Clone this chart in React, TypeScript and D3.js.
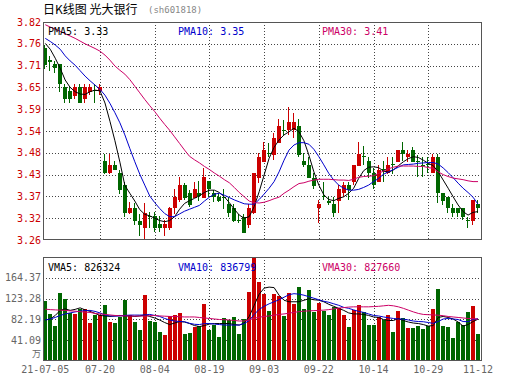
import * as d3 from "d3";

// 光大银行 sh601818 daily K, 2021-07-05 .. 2021-11-12
const dates = [
  "07-05","07-06","07-07","07-08","07-09","07-12","07-13","07-14","07-15","07-16",
  "07-19","07-20","07-21","07-22","07-23","07-26","07-27","07-28","07-29","07-30",
  "08-02","08-03","08-04","08-05","08-06","08-09","08-10","08-11","08-12","08-13",
  "08-16","08-17","08-18","08-19","08-20","08-23","08-24","08-25","08-26","08-27",
  "08-30","08-31","09-01","09-02","09-03","09-06","09-07","09-08","09-09","09-10",
  "09-13","09-14","09-15","09-16","09-17","09-22","09-23","09-24","09-27","09-28",
  "09-29","09-30","10-08","10-11","10-12","10-13","10-14","10-15","10-18","10-19",
  "10-20","10-21","10-22","10-25","10-26","10-27","10-28","10-29","11-01","11-02",
  "11-03","11-04","11-05","11-08","11-09","11-10","11-11","11-12",
];

const open = [
  3.754,3.722,3.712,3.712,3.652,3.643,3.631,3.652,3.621,3.641,
  3.645,3.643,3.463,3.431,3.453,3.431,3.401,3.33,3.341,3.31,
  3.29,3.322,3.322,3.301,3.29,3.29,3.341,3.363,3.401,3.38,
  3.367,3.38,3.367,3.412,3.38,3.371,3.371,3.352,3.341,3.311,
  3.32,3.299,3.33,3.42,3.461,3.483,3.478,3.51,3.542,3.542,
  3.542,3.553,3.463,3.453,3.42,3.341,3.372,3.36,3.352,3.361,
  3.38,3.401,3.41,3.45,3.475,3.463,3.431,3.41,3.442,3.431,
  3.454,3.461,3.491,3.472,3.491,3.464,3.453,3.454,3.431,3.472,
  3.38,3.371,3.341,3.341,3.341,3.312,3.31,3.352,
];
const high = [
  3.76,3.732,3.72,3.712,3.662,3.652,3.662,3.662,3.662,3.662,
  3.662,3.662,3.482,3.482,3.463,3.441,3.41,3.358,3.354,3.328,
  3.354,3.333,3.333,3.322,3.311,3.346,3.39,3.423,3.406,3.388,
  3.41,3.412,3.444,3.412,3.388,3.38,3.39,3.371,3.352,3.328,
  3.328,3.352,3.431,3.484,3.513,3.508,3.534,3.572,3.568,3.602,
  3.585,3.572,3.484,3.474,3.431,3.363,3.41,3.371,3.371,3.401,
  3.41,3.41,3.453,3.513,3.501,3.474,3.444,3.453,3.463,3.474,
  3.474,3.491,3.512,3.491,3.5,3.478,3.474,3.474,3.481,3.481,
  3.38,3.371,3.352,3.341,3.341,3.32,3.363,3.363,
];
const low = [
  3.70,3.695,3.69,3.641,3.611,3.611,3.621,3.611,3.611,3.632,
  3.611,3.632,3.429,3.429,3.44,3.378,3.32,3.328,3.299,3.269,
  3.26,3.29,3.281,3.281,3.269,3.286,3.328,3.358,3.363,3.346,
  3.367,3.361,3.367,3.371,3.358,3.358,3.339,3.32,3.307,3.303,
  3.279,3.29,3.328,3.406,3.461,3.474,3.465,3.508,3.53,3.53,
  3.521,3.474,3.448,3.42,3.39,3.303,3.363,3.35,3.32,3.33,
  3.371,3.363,3.401,3.45,3.453,3.42,3.39,3.41,3.41,3.429,
  3.429,3.461,3.463,3.461,3.461,3.423,3.423,3.431,3.431,3.354,
  3.35,3.33,3.32,3.32,3.311,3.29,3.299,3.33,
];
const close = [
  3.709,3.718,3.701,3.662,3.621,3.621,3.652,3.611,3.652,3.652,
  3.643,3.652,3.431,3.453,3.441,3.388,3.33,3.341,3.31,3.299,
  3.33,3.32,3.29,3.29,3.301,3.341,3.371,3.401,3.367,3.35,
  3.39,3.372,3.423,3.39,3.371,3.361,3.367,3.33,3.31,3.31,
  3.279,3.341,3.431,3.474,3.491,3.481,3.521,3.553,3.54,3.564,
  3.564,3.478,3.453,3.42,3.399,3.352,3.37,3.356,3.33,3.39,
  3.401,3.388,3.453,3.481,3.473,3.431,3.401,3.441,3.44,3.453,
  3.452,3.491,3.481,3.481,3.461,3.462,3.451,3.452,3.472,3.38,
  3.361,3.341,3.33,3.33,3.32,3.31,3.363,3.341,
];

const ma5 = [
  3.765,3.75,3.727,3.701,3.671,3.652,3.641,3.635,3.634,3.641,
  3.645,3.643,3.612,3.565,3.515,3.46,3.40,3.38,3.36,3.338,
  3.326,3.322,3.316,3.31,3.307,3.31,3.32,3.339,3.354,3.361,
  3.367,3.374,3.382,3.388,3.388,3.382,3.371,3.356,3.339,3.324,
  3.316,3.32,3.346,3.384,3.427,3.47,3.498,3.517,3.53,3.538,
  3.547,3.538,3.515,3.478,3.435,3.401,3.376,3.364,3.361,3.367,
  3.371,3.38,3.393,3.418,3.438,3.447,3.448,3.446,3.437,3.434,
  3.44,3.451,3.461,3.469,3.474,3.472,3.465,3.457,3.451,3.435,
  3.414,3.393,3.371,3.35,3.333,3.324,3.331,3.333,
];
const ma10 = [
  3.778,3.77,3.761,3.75,3.733,3.72,3.709,3.695,3.681,3.669,
  3.658,3.647,3.632,3.611,3.587,3.561,3.53,3.495,3.461,3.429,
  3.401,3.373,3.356,3.341,3.328,3.32,3.32,3.327,3.334,3.339,
  3.344,3.349,3.36,3.37,3.378,3.38,3.375,3.369,3.363,3.358,
  3.353,3.352,3.352,3.364,3.378,3.393,3.41,3.435,3.465,3.491,
  3.504,3.51,3.51,3.506,3.493,3.474,3.453,3.431,3.414,3.401,
  3.393,3.388,3.388,3.39,3.395,3.401,3.41,3.418,3.429,3.435,
  3.441,3.447,3.453,3.454,3.455,3.457,3.458,3.459,3.459,3.455,
  3.445,3.433,3.42,3.406,3.393,3.382,3.37,3.352,
];
const ma30 = [
  3.813,3.807,3.802,3.796,3.79,3.784,3.778,3.771,3.764,3.758,
  3.752,3.745,3.735,3.722,3.707,3.696,3.686,3.672,3.655,3.638,
  3.621,3.605,3.59,3.573,3.557,3.542,3.525,3.508,3.491,3.475,
  3.466,3.458,3.449,3.441,3.432,3.424,3.415,3.407,3.395,3.382,
  3.371,3.36,3.356,3.355,3.357,3.361,3.366,3.37,3.38,3.388,
  3.397,3.405,3.407,3.411,3.414,3.416,3.416,3.416,3.415,3.414,
  3.414,3.413,3.416,3.421,3.423,3.424,3.425,3.431,3.437,3.443,
  3.447,3.45,3.45,3.45,3.45,3.449,3.449,3.446,3.444,3.435,
  3.428,3.423,3.419,3.417,3.415,3.412,3.41,3.41,
];

// volume in 万
const volume = [
  118,92.6,69.8,134.3,123.3,95.2,92.6,103,102.4,75.7,
  90.7,90.7,110.2,77.6,75.7,87.4,120,90.7,77.6,61.3,
  129.8,78.9,77.6,58,51.5,88.7,90.7,95.2,54.1,56,
  67.8,69.1,112.2,61.3,71.1,48.3,85.4,80.9,87.4,53.6,
  82.5,137,215,155.8,131.7,98.4,132,127.8,88.7,134.4,
  112.2,145.4,102.4,140.9,97.2,114.8,99.1,91.3,106.3,104,
  90.7,67.8,100.4,110.2,97.2,71.1,71.1,87.4,80.9,90.7,
  57.4,98.5,85.4,65.9,65.9,69.8,63.3,69.8,102.4,141.5,
  69.8,67.8,46.3,76.3,72,96.5,108.3,53.5,
];
const vma5 = [
  81,83,90,100,103,100,102,105,101,98,
  94,90,89,88,89,90,89,89,88,89,
  91,88,85,81,76,72,75,78,77,74,
  70,68,70,73,74,74,74,74,72,71,
  75,88,110,132,144,146,145,130,120,117,
  117,117,120,123,121,120,117,112,108,104,
  100,95,93,93,92,90,87,86,82,80,
  80,84,80,77,75,74,72,69,70,86,
  88,86,83,77,69,72,78,82.6,
];
const vma10 = [
  81,83,86,90,93,95,97,98.5,99.5,100,
  98,95,91,89,88.7,89,90,90.7,90.7,90.7,
  91,92,90,88,84,81,79,78,77.6,74.5,
  72.5,72,74,74,73,72,71,71,71,71,
  74,80,92,102,108,113,117,121,126,131,
  133,132,130,127,124,121,118,116,113,110,
  106,104,101,98,96,93,90,89,87,85.4,
  84,83,82.8,81,79,78,77.6,76,74.4,78,
  83,84,83,82,78,77.6,82,83.7,
];
const vma30 = [
  102.4,101.5,101,100.4,100,99,98.5,97.5,96.5,96,
  94,93,92,91,90,89.4,89,88.7,88.7,88.7,
  88.7,89.5,90,89,88.5,88,88,87.5,87,87,
  87,86,85,84,83,82,81.5,81,80,79,
  79,81,84.5,86.5,88,89,90.5,92,93,94.5,
  96,97.5,98.5,99,99.5,100,100.5,101.5,103,104.5,
  105.5,106.5,107,107,107,107,107.5,108,109,110,
  109,107,104,100.5,97,94,92,91.5,91,90.5,
  89.5,88,87,86,85,84,83.5,82.8,
];

const priceTickLabels = ["3.26","3.32","3.37","3.43","3.48","3.54","3.59","3.65","3.71","3.76","3.82"];
const volTickLabels = ["41.09","82.19","123.28","164.37"];
const xTickDates = ["07-05","07-20","08-04","08-19","09-03","09-22","10-14","10-29","11-12"];
const xTickText = ["21-07-05","07-20","08-04","08-19","09-03","09-22","10-14","10-29","11-12"];

const pmaNames = ["PMA5", "PMA10", "PMA30"];
const pmaValues = ["3.33", "3.35", "3.41"];
const vmaNames = ["VMA5", "VMA10", "VMA30"];
const vmaValues = ["826324", "836799", "827660"];

const RED = "#cc0000";
const GREEN = "#006600";
const MA_COLORS = ["#000000", "#0000cc", "#cc0066"];
const GRID = "#444";
const MONO = "'DejaVu Sans Mono', monospace";
const CJK = "'Noto Sans CJK SC', sans-serif";

export default function App() {
  const W = 530;
  const H = 391;
  const left = 43;
  const right = 482;
  const pTop = 22;
  const pBot = 240;
  const vTop = 257;
  const vBot = 361;

  const x = d3.scaleBand<string>().domain(dates).range([42.8, 480.5]);
  const cx = (d: string) => (x(d) as number) + x.bandwidth() / 2;
  const yP = d3.scaleLinear().domain([3.26, 3.82]).range([pBot, pTop]);
  const yV = d3.scaleLinear().domain([0, 205.46]).range([vBot, vTop]).clamp(true);

  const priceTicks = priceTickLabels.map((_, k) => 3.26 + k * 0.056);
  const volTicks = volTickLabels.map((_, k) => 41.09 * (k + 1));

  const lineP = (arr: number[]) =>
    d3.line<number>().x((_, i) => cx(dates[i])).y((v) => yP(v))(arr) || "";
  const lineV = (arr: number[]) =>
    d3.line<number>().x((_, i) => cx(dates[i])).y((v) => yV(v))(arr) || "";

  const innerTicks = xTickDates.slice(1, -1);

  return (
    <svg
      width={W}
      height={H}
      style={{ position: "absolute", left: 0, top: 0, background: "#fff" }}
    >
      {/* title */}
      <text x={43} y={14} fontSize={12} fontFamily={CJK} fill="#000">
        日K线图 光大银行
      </text>
      <text x={148} y={13} fontSize={9} fontFamily={MONO} fill="#888">
        (sh601818)
      </text>

      <g shapeRendering="crispEdges">
        {/* price grid */}
        {priceTicks.slice(1, -1).map((t, k) => (
          <line key={"pg" + k} x1={left} x2={right} y1={Math.round(yP(t)) + 0.5} y2={Math.round(yP(t)) + 0.5}
            stroke={GRID} strokeDasharray="1,2" />
        ))}
        {volTicks.map((t, k) => (
          <line key={"vg" + k} x1={left} x2={right} y1={Math.round(yV(t)) + 0.5} y2={Math.round(yV(t)) + 0.5}
            stroke={GRID} strokeDasharray="1,2" />
        ))}
        {innerTicks.map((d) => (
          <g key={"xg" + d}>
            <line x1={Math.round(cx(d)) + 0.5} x2={Math.round(cx(d)) + 0.5} y1={pTop} y2={pBot} stroke={GRID} strokeDasharray="1,2" />
            <line x1={Math.round(cx(d)) + 0.5} x2={Math.round(cx(d)) + 0.5} y1={vTop} y2={vBot} stroke={GRID} strokeDasharray="1,2" />
          </g>
        ))}

        {/* volume bars */}
        {dates.map((d, i) => {
          const bx = Math.round(cx(d) - 2);
          const top = yV(volume[i]);
          return (
            <rect key={"v" + i} x={bx} y={top} width={4} height={vBot - top}
              fill={close[i] >= open[i] ? RED : GREEN} />
          );
        })}

        {/* candles */}
        {dates.map((d, i) => {
          const bx = Math.round(cx(d) - 2);
          const up = close[i] >= open[i];
          const col = up ? RED : GREEN;
          const yTop = yP(Math.max(open[i], close[i]));
          const yBot = yP(Math.min(open[i], close[i]));
          return (
            <g key={"c" + i}>
              <line x1={bx + 1.5} x2={bx + 1.5} y1={yP(high[i])} y2={yP(low[i])} stroke={col} />
              <rect x={bx} y={yTop} width={4} height={Math.max(1, yBot - yTop)} fill={col} />
            </g>
          );
        })}
      </g>

      {/* moving averages */}
      {[ma5, ma10, ma30].map((arr, k) => (
        <path key={"pm" + k} d={lineP(arr)} fill="none" stroke={MA_COLORS[k]} strokeWidth={1} />
      ))}
      {[vma5, vma10, vma30].map((arr, k) => (
        <path key={"vm" + k} d={lineV(arr)} fill="none" stroke={MA_COLORS[k]} strokeWidth={1} />
      ))}

      {/* frames */}
      <g shapeRendering="crispEdges" fill="none" stroke="#555">
        <rect x={left + 0.5} y={pTop + 0.5} width={right - left - 1} height={pBot - pTop - 1} />
        <rect x={left + 0.5} y={vTop + 0.5} width={right - left - 1} height={vBot - vTop - 1} />
      </g>

      {/* legends */}
      {pmaNames.map((n, k) => (
        <text key={"pl" + k} x={[48, 178, 322][k]} y={35} fontSize={10} fontFamily={MONO} fill={MA_COLORS[k]}>
          {n}: {pmaValues[k]}
        </text>
      ))}
      {vmaNames.map((n, k) => (
        <text key={"vl" + k} x={[48, 178, 322][k]} y={271} fontSize={10} fontFamily={MONO} fill={MA_COLORS[k]}>
          {n}: {vmaValues[k]}
        </text>
      ))}

      {/* price axis labels */}
      {priceTicks.map((t, k) => (
        <text key={"py" + k} x={41} y={yP(t)} dy="0.35em" textAnchor="end" fontSize={10} fontFamily={MONO} fill={RED}>
          {priceTickLabels[k]}
        </text>
      ))}
      {/* volume axis labels */}
      {volTicks.map((t, k) => (
        <text key={"vy" + k} x={41} y={yV(t)} dy="0.35em" textAnchor="end" fontSize={10} fontFamily={MONO} fill="#666">
          {volTickLabels[k]}
        </text>
      ))}
      <text x={41} y={357} textAnchor="end" fontSize={9} fontFamily={CJK} fill="#666">
        万
      </text>

      {/* date labels */}
      {xTickDates.map((d, k) => (
        <text key={"xl" + k} x={cx(d)} y={373} textAnchor="middle" fontSize={10} fontFamily={MONO} fill="#666">
          {xTickText[k]}
        </text>
      ))}
    </svg>
  );
}
